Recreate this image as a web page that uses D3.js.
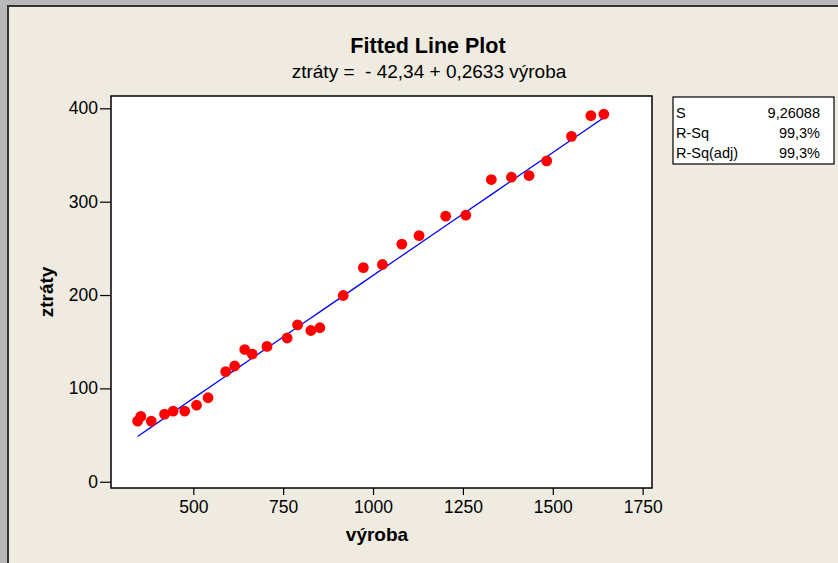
<!DOCTYPE html>
<html>
<head>
<meta charset="utf-8">
<script src="https://cdn.jsdelivr.net/npm/d3@7"></script>
<style>
  html, body { margin: 0; padding: 0; background: #efebe1; }
  svg { display: block; font-family: "Liberation Sans", Arial, sans-serif; }
</style>
</head>
<body>
<div id="chart"></div>
<script>
// data
const vyroba = [345, 354, 383, 420, 444, 476, 509, 541, 590, 615, 643, 664, 705, 761, 790,
                827, 852, 917, 973, 1026, 1080, 1128, 1202, 1258, 1329, 1385, 1434, 1483,
                1552, 1606, 1642];
const ztraty = [65, 70, 65, 72.5, 75.7, 75.7, 82, 90, 118, 124, 141.6, 136.7, 145, 154, 168,
                162, 165, 199.5, 229.4, 232.7, 254.5, 263.7, 284.5, 285.5, 323.7, 326.2, 328,
                343.7, 370, 392.2, 393.7];
const intercept = -42.34;
const slope = 0.2633;
const xTicks = [500, 750, 1000, 1250, 1500, 1750];
const yTicks = [0, 100, 200, 300, 400];
const statNames = ["S", "R-Sq", "R-Sq(adj)"];
const statValues = ["9,26088", "99,3%", "99,3%"];

const width = 838, height = 563;
const plot = { left: 111, right: 652, top: 96, bottom: 488 };

const svg = d3.select("#chart").append("svg")
    .attr("width", width)
    .attr("height", height);

// background and frame
svg.append("rect").attr("width", width).attr("height", height).attr("fill", "#b8b8b8");
svg.append("rect").attr("x", 7).attr("y", 5).attr("width", width - 7).attr("height", height - 5)
    .attr("fill", "#333");
svg.append("rect").attr("x", 9).attr("y", 7).attr("width", width - 9).attr("height", height - 7)
    .attr("fill", "#efebe1");

const x = d3.scaleLinear().domain([271, 1776]).range([plot.left, plot.right]);
const y = d3.scaleLinear().domain([-6.7, 413.2]).range([plot.bottom, plot.top]);

// plot area
svg.append("rect")
    .attr("x", plot.left).attr("y", plot.top)
    .attr("width", plot.right - plot.left).attr("height", plot.bottom - plot.top)
    .attr("fill", "#fff");

// axes
const xAxis = svg.append("g")
    .attr("transform", `translate(0,${plot.bottom})`)
    .call(d3.axisBottom(x).tickValues(xTicks).tickSize(7).tickPadding(6).tickFormat(d3.format("d")));
const yAxis = svg.append("g")
    .attr("transform", `translate(${plot.left},0)`)
    .call(d3.axisLeft(y).tickValues(yTicks).tickSize(11).tickPadding(2).tickFormat(d3.format("d")));
[xAxis, yAxis].forEach(a => {
    a.select(".domain").remove();
    a.selectAll("line").attr("stroke", "#000").attr("stroke-width", 1.2);
    a.selectAll("text").attr("font-size", 17.5).attr("fill", "#000")
        .attr("font-family", "'Liberation Sans', Arial, sans-serif");
});

svg.append("rect")
    .attr("x", plot.left).attr("y", plot.top)
    .attr("width", plot.right - plot.left).attr("height", plot.bottom - plot.top)
    .attr("fill", "none").attr("stroke", "#000").attr("stroke-width", 1.5);

// fitted line
const fitted = vyroba.map(v => [v, intercept + slope * v]);
svg.append("path")
    .datum(fitted)
    .attr("fill", "none")
    .attr("stroke", "#0000ff")
    .attr("stroke-width", 1.3)
    .attr("d", d3.line().x(d => x(d[0])).y(d => y(d[1])));

// points
svg.selectAll(".pt")
    .data(vyroba.map((v, i) => [v, ztraty[i]]))
    .enter()
    .append("circle")
    .attr("class", "pt")
    .attr("cx", d => x(d[0]))
    .attr("cy", d => y(d[1]))
    .attr("r", 5.4)
    .attr("fill", "#ff0000");

// titles
svg.append("text").attr("x", 428).attr("y", 53).attr("text-anchor", "middle")
    .attr("font-size", 21.5).attr("font-weight", "bold").text("Fitted Line Plot");
svg.append("text").attr("x", 429).attr("y", 78).attr("text-anchor", "middle")
    .attr("font-size", 19).attr("xml:space", "preserve")
    .text("ztráty =  - 42,34 + 0,2633 výroba");

svg.append("text").attr("x", 377).attr("y", 541).attr("text-anchor", "middle")
    .attr("font-size", 19).attr("font-weight", "bold").text("výroba");
svg.append("text")
    .attr("transform", "translate(53,292) rotate(-90)")
    .attr("text-anchor", "middle")
    .attr("font-size", 19).attr("font-weight", "bold").text("ztráty");

// stats box
svg.append("rect").attr("x", 673).attr("y", 97).attr("width", 161).attr("height", 67)
    .attr("fill", "#fff").attr("stroke", "#000").attr("stroke-width", 1.2);
statNames.forEach((n, i) => {
    svg.append("text").attr("x", 676).attr("y", 118 + i * 20)
        .attr("font-size", 14.5).text(n);
    svg.append("text").attr("x", 820).attr("y", 118 + i * 20)
        .attr("font-size", 14.5).attr("text-anchor", "end").text(statValues[i]);
});
</script>
</body>
</html>
